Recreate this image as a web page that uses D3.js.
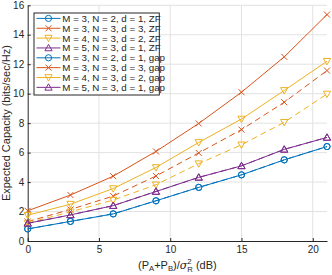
<!DOCTYPE html>
<html>
<head>
<meta charset="utf-8">
<script src="https://cdn.jsdelivr.net/npm/d3@7"></script>
<style>
  body { margin: 0; background: #fff; }
  svg text { font-family: "Liberation Sans", Arial, sans-serif; fill: #262626; }
</style>
</head>
<body>
<div id="chart"></div>
<script>
// x values (dB)
var snr = [0, 3, 6, 9, 12, 15, 18, 21]

// ZF curves
var zf_m3n2 = [0.82, 1.33, 1.84, 2.73, 3.64, 4.49, 5.51, 6.41]
var zf_m3n3 = [1.32, 2.14, 3.05, 4.41, 5.98, 7.56, 9.42, 11.57]
var zf_m4n3 = [1.22, 1.98, 2.78, 3.82, 5.25, 6.53, 8.06, 9.98]
var zf_m5n3 = [1.2, 1.77, 2.4, 3.36, 4.32, 5.1, 6.22, 7.03]

// gap curves
var gap_m3n2 = [0.82, 1.33, 1.84, 2.73, 3.64, 4.49, 5.51, 6.41]
var gap_m3n3 = [2.05, 3.12, 4.4, 6.08, 7.98, 10.1, 12.5, 15.37]
var gap_m4n3 = [1.75, 2.5, 3.56, 4.99, 6.69, 8.28, 10.22, 12.2]
var gap_m5n3 = [1.2, 1.77, 2.4, 3.36, 4.32, 5.1, 6.22, 7.03]

var legendLabels = [
    "M = 3, N = 2, d = 1, ZF", "M = 3, N = 3, d = 3, ZF",
    "M = 4, N = 3, d = 2, ZF", "M = 5, N = 3, d = 1, ZF",
    "M = 3, N = 2, d = 1, gap", "M = 3, N = 3, d = 3, gap",
    "M = 4, N = 3, d = 2, gap", "M = 5, N = 3, d = 1, gap"
]
var xTicks = [0, 5, 10, 15, 20]
var yTicks = [0, 2, 4, 6, 8, 10, 12, 14, 16]

var colors = ["#0072BD", "#D95319", "#EDB120", "#7E2F8E"]
var markers = ["circle", "cross", "down", "up"]

var series = [
    {values: zf_m3n2, color: 0, dash: true},
    {values: zf_m3n3, color: 1, dash: true},
    {values: zf_m4n3, color: 2, dash: true},
    {values: zf_m5n3, color: 3, dash: true},
    {values: gap_m3n2, color: 0, dash: false},
    {values: gap_m3n3, color: 1, dash: false},
    {values: gap_m4n3, color: 2, dash: false},
    {values: gap_m5n3, color: 3, dash: false}
]

var width = 332
var height = 275
var plotL = 27.7, plotR = 327, plotT = 5.3, plotB = 241

var svg = d3.select("#chart")
            .append("svg")
            .attr("width", width)
            .attr("height", height)

var x = d3.scaleLinear().domain([0, 21]).range([plotL, plotR])
var y = d3.scaleLinear().domain([0, 16]).range([plotB, plotT])

// grid
svg.selectAll(".gx")
    .data(xTicks.filter(function(t){ return t > 0 }))
    .enter()
    .append("line")
    .attr("x1", function(d){ return x(d) })
    .attr("x2", function(d){ return x(d) })
    .attr("y1", plotT)
    .attr("y2", plotB)
    .style("stroke", "#e2e2e2")
    .style("stroke-width", 1)

svg.selectAll(".gy")
    .data(yTicks.filter(function(t){ return t > 0 }))
    .enter()
    .append("line")
    .attr("x1", plotL)
    .attr("x2", plotR)
    .attr("y1", function(d){ return y(d) })
    .attr("y2", function(d){ return y(d) })
    .style("stroke", "#e2e2e2")
    .style("stroke-width", 1)

// axes
var xAxis = d3.axisBottom(x).tickValues(xTicks).tickSizeInner(-3).tickSizeOuter(0).tickPadding(4)
var yAxis = d3.axisLeft(y).tickValues(yTicks).tickSizeInner(-3).tickSizeOuter(0).tickPadding(3.5)

var gx = svg.append("g").attr("transform", "translate(0," + plotB + ")").call(xAxis)
var gy = svg.append("g").attr("transform", "translate(" + plotL + ",0)").call(yAxis)

;[gx, gy].forEach(function(g){
    g.select(".domain").style("stroke", "#262626").style("stroke-width", 1)
    g.selectAll(".tick line").style("stroke", "#262626")
    g.selectAll(".tick text")
        .style("font-size", "10px")
        .style("font-family", "Liberation Sans, Arial, sans-serif")
        .attr("fill", "#262626")
})
gx.selectAll(".tick text").attr("y", 5).attr("dy", "0.71em")

// marker drawing
function drawMarker(g, type, cx, cy, color){
    if (type == "circle") {
        g.append("circle").attr("cx", cx).attr("cy", cy).attr("r", 3.1)
            .style("fill", "none").style("stroke", color).style("stroke-width", 1)
    } else if (type == "cross") {
        var s = 3
        g.append("path")
            .attr("d", "M" + (cx - s) + "," + (cy - s) + "L" + (cx + s) + "," + (cy + s) +
                       "M" + (cx - s) + "," + (cy + s) + "L" + (cx + s) + "," + (cy - s))
            .style("stroke", color).style("stroke-width", 1).style("fill", "none")
    } else if (type == "down") {
        g.append("path")
            .attr("d", "M" + (cx - 3.6) + "," + (cy - 2.8) + "L" + (cx + 3.6) + "," + (cy - 2.8) +
                       "L" + cx + "," + (cy + 3.6) + "Z")
            .style("stroke", color).style("stroke-width", 1).style("fill", "none")
    } else {
        g.append("path")
            .attr("d", "M" + (cx - 3.6) + "," + (cy + 2.8) + "L" + (cx + 3.6) + "," + (cy + 2.8) +
                       "L" + cx + "," + (cy - 3.6) + "Z")
            .style("stroke", color).style("stroke-width", 1).style("fill", "none")
    }
}

var line = d3.line()
    .x(function(d, i){ return x(snr[i]) })
    .y(function(d){ return y(d) })

series.forEach(function(s){
    var color = colors[s.color]
    var g = svg.append("g")
    g.append("path")
        .attr("d", line(s.values))
        .style("fill", "none")
        .style("stroke", color)
        .style("stroke-width", 1)
        .style("stroke-dasharray", s.dash ? "6,4" : null)
    s.values.forEach(function(v, i){
        drawMarker(g, markers[s.color], x(snr[i]), y(v), color)
    })
})

// legend
var lg = svg.append("g")
lg.append("rect")
    .attr("x", 34).attr("y", 13)
    .attr("width", 125.3).attr("height", 82)
    .style("fill", "#fff").style("stroke", "#262626").style("stroke-width", 1)

legendLabels.forEach(function(label, i){
    var s = series[i]
    var color = colors[s.color]
    var ly = 18.4 + i * 9.85
    lg.append("line")
        .attr("x1", 36.5).attr("x2", 60.5)
        .attr("y1", ly).attr("y2", ly)
        .style("stroke", color).style("stroke-width", 1)
    drawMarker(lg, markers[s.color], 48.5, ly, color)
    lg.append("text")
        .attr("x", 62.3).attr("y", ly + 3.5)
        .style("font-size", "9.75px")
        .text(label)
})

// axis labels
svg.append("text")
    .attr("transform", "translate(9.6," + ((plotT + plotB) / 2) + ") rotate(-90)")
    .attr("text-anchor", "middle")
    .style("font-size", "11px")
    .text("Expected Capacity (bits/sec/Hz)")

var xl = svg.append("text")
    .attr("x", (plotL + plotR) / 2)
    .attr("y", 268.5)
    .attr("text-anchor", "middle")
    .style("font-size", "11px")
xl.append("tspan").text("(P")
xl.append("tspan").attr("dy", 2.8).style("font-size", "7.7px").text("A")
xl.append("tspan").attr("dy", -2.8).text("+P")
xl.append("tspan").attr("dy", 2.8).style("font-size", "7.7px").text("B")
xl.append("tspan").attr("dy", -2.8).text(")/")
xl.append("tspan").style("font-style", "italic").style("font-family", "DejaVu Serif, serif").text("σ")
xl.append("tspan").attr("dy", -4.5).style("font-size", "7.7px").text("2")
xl.append("tspan").attr("dx", -4.3).attr("dy", 7.8).style("font-size", "7.7px").text("R")
xl.append("tspan").attr("dy", -3.3).text(" (dB)")
</script>
</body>
</html>
